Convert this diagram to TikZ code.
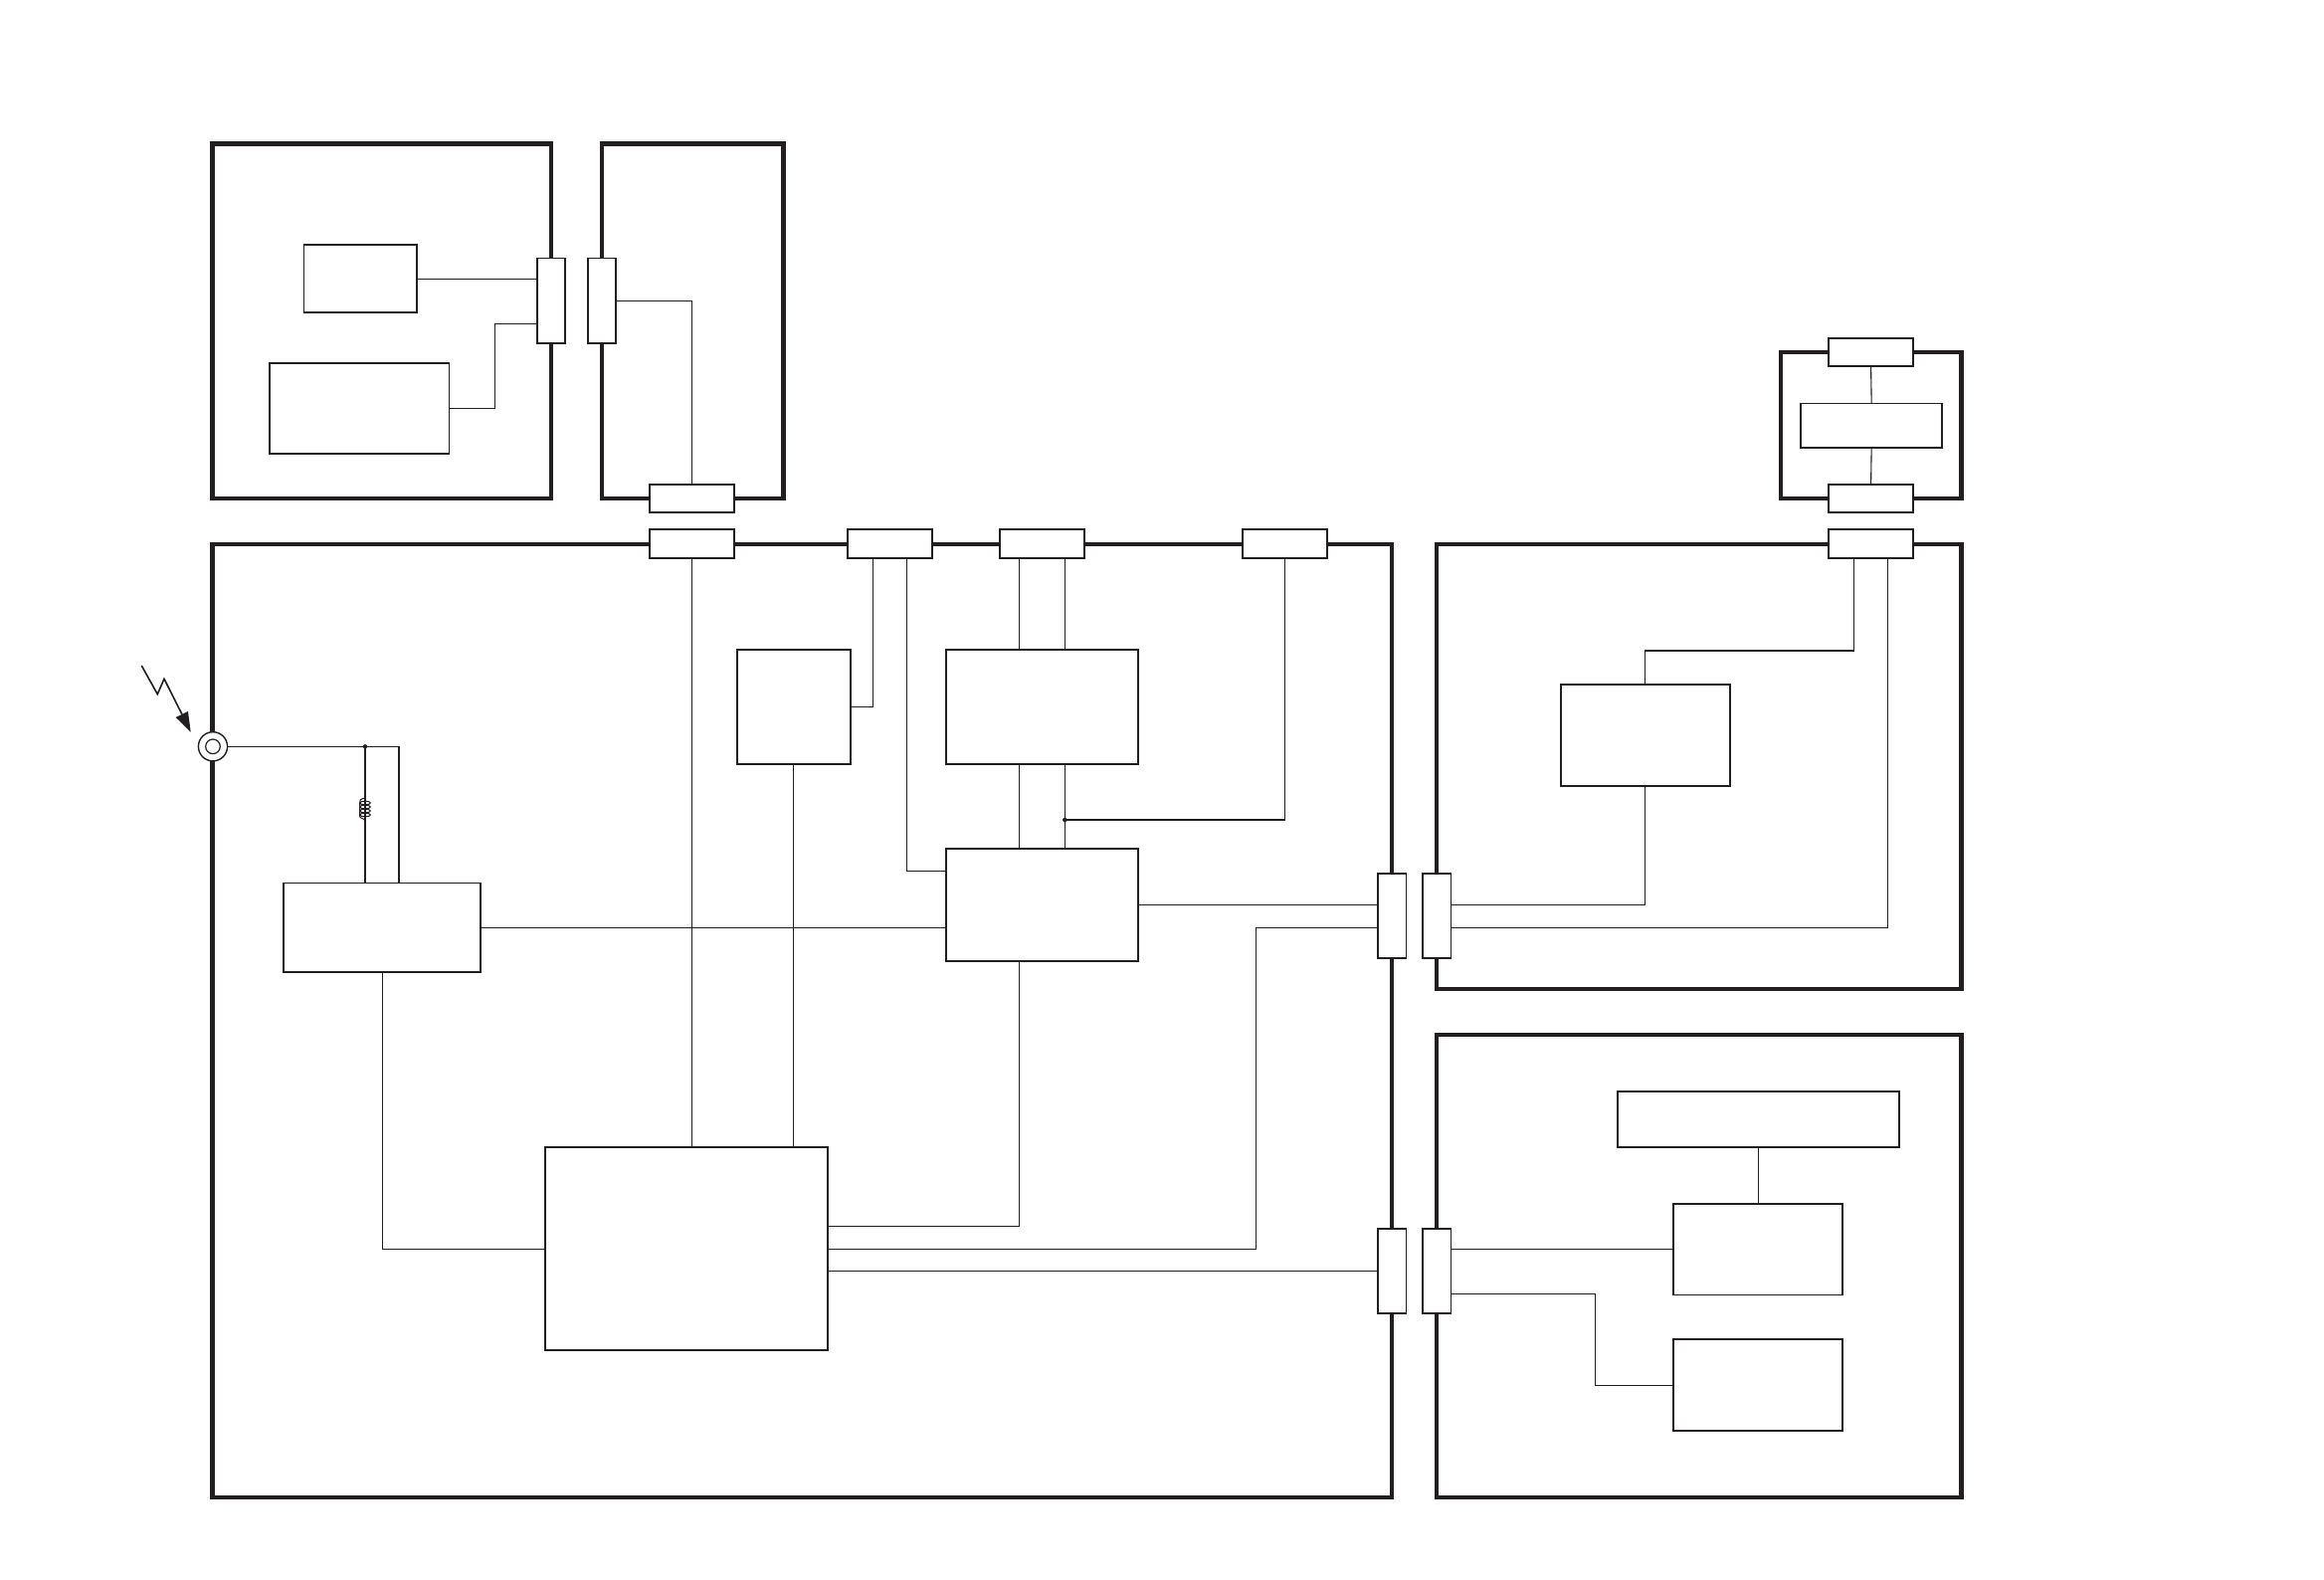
\documentclass[tikz,border=0pt]{standalone}
\definecolor{ink}{HTML}{231F20}
\tikzset{
  panel/.style={draw=ink,line width=2.3pt,fill=none,inner sep=0pt,outer sep=0pt,rectangle},
  blockbox/.style={draw=ink,line width=0.95pt,fill=white,inner sep=0pt,outer sep=0pt,rectangle},
  wire/.style={draw=ink,line width=0.55pt},
  coil/.style={draw=ink,line width=0.5pt},
  joint/.style={circle,fill=ink,inner sep=0pt,minimum size=2.2pt}
}
\newcommand{\bx}[6]{%
  \pgfmathsetmacro\bw{(#4-#2)*0.5}%
  \pgfmathsetmacro\bh{(#5-#3)*0.5}%
  \node[#6,minimum width=\bw pt,minimum height=\bh pt] (#1) at ({(#2+#4)/2},{(#3+#5)/2}) {};}
\begin{document}
\begin{tikzpicture}[x=0.5pt,y=-0.5pt]
\useasboundingbox (0,0) rectangle (2336,1588);
\fill[white] (0,0) rectangle (2336,1588);
% panels
\bx{pa}{213.5}{144.5}{554}{501}{panel}
\bx{pb}{605}{144.5}{787.5}{501}{panel}
\bx{pmain}{213.5}{547}{1399}{1505}{panel}
\bx{pr}{1444}{547}{1971.5}{994}{panel}
\bx{ps}{1444}{1040}{1971.5}{1505}{panel}
\bx{psm}{1790}{354}{1971.5}{501}{panel}
% connectors on panel edges
\bx{ca}{540}{259.5}{568}{345}{blockbox}
\bx{cb}{591}{259.5}{619}{345}{blockbox}
\bx{cc}{653}{487}{738.2}{515.3}{blockbox}
\bx{cd}{653}{532}{738.2}{561.3}{blockbox}
\bx{ce}{852.3}{532}{937.2}{561.3}{blockbox}
\bx{cf}{1005}{532}{1090}{561.3}{blockbox}
\bx{cg}{1248.6}{532}{1333.6}{561.3}{blockbox}
\bx{ch}{1838}{340}{1923.2}{368.3}{blockbox}
\bx{ci}{1838}{487}{1923.2}{515.3}{blockbox}
\bx{cj}{1838}{532}{1923.2}{561.3}{blockbox}
\bx{ck}{1385}{878}{1413.5}{963.3}{blockbox}
\bx{cl}{1430}{878}{1458.5}{963.3}{blockbox}
\bx{cm}{1385}{1235.2}{1413.5}{1320.1}{blockbox}
\bx{cn}{1430}{1235.2}{1458.5}{1320.1}{blockbox}
% blocks
\bx{ba}{305.5}{245.9}{418.7}{314.4}{blockbox}
\bx{bb}{271.2}{365}{451.5}{456}{blockbox}
\bx{bc}{1810}{405.5}{1952.3}{450}{blockbox}
\bx{rf}{285}{887.5}{483.3}{977.4}{blockbox}
\bx{sq}{741.3}{653.4}{855.3}{768}{blockbox}
\bx{up}{950.6}{653.4}{1144}{768}{blockbox}
\bx{mid}{950.6}{853}{1144}{965.7}{blockbox}
\bx{big}{548.3}{1153.3}{832.2}{1357.4}{blockbox}
\bx{rb}{1569}{687.6}{1738.8}{789.7}{blockbox}
\bx{st}{1625.6}{1096.6}{1908.7}{1153.3}{blockbox}
\bx{sm}{1682.2}{1209.9}{1852}{1301.5}{blockbox}
\bx{sb}{1682.2}{1346.2}{1852}{1437.9}{blockbox}
% routing points
\coordinate (ya) at (0,325.3);
\coordinate (xa) at (497.7,0);
\coordinate (yb) at (0,302.3);
\coordinate (xe1) at (877.6,0);
\coordinate (xe2) at (911.9,0);
\coordinate (ye2) at (0,875.4);
\coordinate (xf1) at (1024.3,0);
\coordinate (xf2) at (1070.3,0);
\coordinate (yj) at (0,824);
\coordinate (yk1) at (0,909.3);
\coordinate (yk2) at (0,932.3);
\coordinate (xk2) at (1262.3,0);
\coordinate (yb1) at (0,1232.2);
\coordinate (yb2) at (0,1255.3);
\coordinate (yb3) at (0,1277.7);
\coordinate (xsq) at (797.2,0);
\coordinate (xj1) at (1863.3,0);
\coordinate (xj2) at (1897.3,0);
\coordinate (yr) at (0,654);
\coordinate (yn) at (0,1300.8);
\coordinate (xn) at (1603.2,0);
\coordinate (xrf) at (367,0);
\coordinate (xrf2) at (401,0);
\coordinate (xrfb) at (384.4,0);
\coordinate (yrf) at (0,932.3);
% wires
\draw[wire] (ba.east) -- (ba.east -| ca.west);
\draw[wire] (bb.east) -- (xa |- bb.east) -- (xa |- ya) -- (ca.west |- ya);
\draw[wire] (cb.east) -- (cb.east -| cc.north) -- (cc.north);
\draw[wire] (cd.south) -- (cd.south |- big.north);
\draw[wire] (ce.south -| xe1) -- (xe1 |- sq.east) -- (sq.east);
\draw[wire] (ce.south -| xe2) -- (xe2 |- ye2) -- (mid.west |- ye2);
\draw[wire] (cf.south -| xf1) -- (up.north -| xf1);
\draw[wire] (cf.south -| xf2) -- (up.north -| xf2);
\draw[wire] (up.south -| xf1) -- (mid.north -| xf1);
\draw[wire] (up.south -| xf2) -- (mid.north -| xf2);
\draw[wire] (cg.south) -- (cg.south |- yj) -- (xf2 |- yj);
\node[joint] (jup) at (xf2 |- yj) {};
\draw[wire] (mid.east |- yk1) -- (ck.west |- yk1);
\draw[wire] (ck.west |- yk2) -- (xk2 |- yk2) -- (xk2 |- yb2) -- (big.east |- yb2);
\draw[wire] (big.east |- yb1) -- (xf1 |- yb1) -- (mid.south -| xf1);
\draw[wire] (big.east |- yb3) -- (cm.west |- yb3);
\draw[wire] (sq.south -| xsq) -- (big.north -| xsq);
\draw[wire] (rf.east |- yrf) -- (mid.west |- yrf);
\draw[wire] (rf.south -| xrfb) -- (xrfb |- yb2) -- (big.west |- yb2);
\draw[wire] (cl.east |- yk1) -- (rb.south |- yk1) -- (rb.south);
\draw[wire] (cl.east |- yk2) -- (xj2 |- yk2) -- (cj.south -| xj2);
\draw[wire] (rb.north) -- (rb.north |- yr) -- (xj1 |- yr) -- (cj.south -| xj1);
\draw[wire] (ch.south) -- (bc.north);
\draw[wire] (bc.south) -- (ci.north);
\draw[wire] (st.south) -- (st.south |- sm.north);
\draw[wire] (cn.east |- yb2) -- (sm.west |- yb2);
\draw[wire] (cn.east |- yn) -- (xn |- yn) -- (xn |- sb.west) -- (sb.west);
% antenna
\node[draw=ink,line width=0.7pt,fill=white,circle,minimum size=14.6pt,inner sep=0pt] (ant) at (214,750.3) {};
\node[draw=ink,line width=0.6pt,circle,minimum size=7.3pt,inner sep=0pt] (anti) at (214,750.3) {};
\draw[wire] (ant.east) -- (xrf2 |- ant.east) -- (rf.north -| xrf2);
\draw[wire] (ant.east -| xrf) -- (rf.north -| xrf);
\node[joint] (jant) at (ant.east -| xrf) {};
% inductor
\draw[coil] (367,802) .. controls (362,803) and (361.5,804) .. (361.5,807) -- (361.5,820) .. controls (361.5,823) and (366,822) .. (367,825);
\foreach \cy in {807,811,815,819}
  \draw[coil] (367,\cy) ellipse [x radius=5.3, y radius=1.9];
% lightning
\coordinate (la) at (142.3,669);
\coordinate (lb) at (158.3,697.7);
\coordinate (lc) at (165,682.3);
\coordinate (ld) at (183,718);
\draw[wire,line width=0.8pt] (la) -- (lb) -- (lc) -- (ld);
\fill[ink] (191.7,735.7) -- (176.7,721) -- (189,715) -- cycle;
\end{tikzpicture}
\end{document}
